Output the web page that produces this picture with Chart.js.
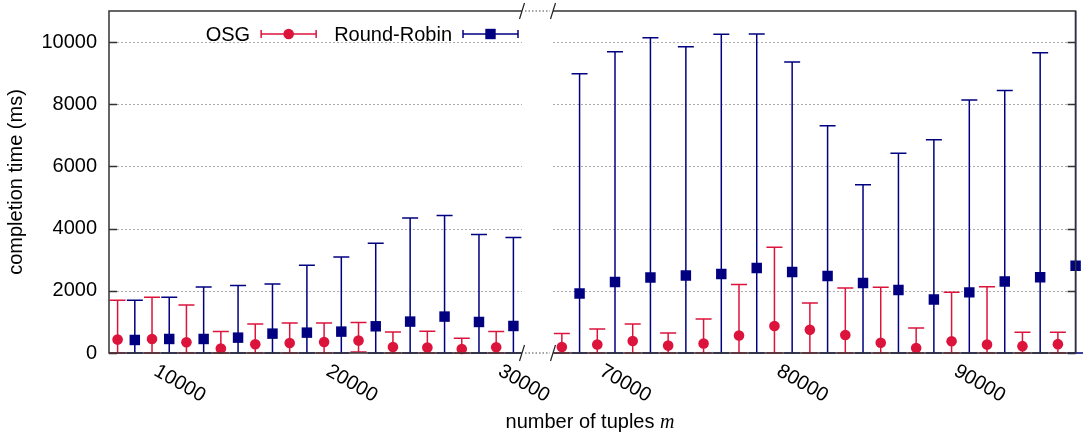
<!DOCTYPE html>
<html>
<head>
<meta charset="utf-8">
<title>completion time vs number of tuples</title>
<script src="https://cdn.jsdelivr.net/npm/chart.js@4.4.1/dist/chart.umd.min.js"></script>
<style>
  html, body { margin: 0; padding: 0; background: #fff; }
  #wrap { position: relative; width: 1083px; height: 437px; }
  #wrap canvas { position: absolute; left: 0; top: 0; }
</style>
</head>
<body>
<div id="wrap">
  <canvas id="lowRange" width="1083" height="437"></canvas>
  <canvas id="highRange" width="1083" height="437"></canvas>
</div>
<script>
// number of tuples m, left and right part of the broken x axis
const lowTuples = [8000, 10000, 12000, 14000, 16000, 18000, 20000, 22000, 24000, 26000, 28000, 30000];
const highTuples = [68000, 70000, 72000, 74000, 76000, 78000, 80000, 82000, 84000, 86000, 88000, 90000, 92000, 94000, 96000];

// OSG completion time (ms): mean, min, max
const osgLowMean = [431, 451, 344, 142, 280, 322, 354, 399, 193, 174, 129, 183];
const osgLowMin = [0, 0, 0, 0, 0, 0, 0, 30, 0, 0, 0, 0];
const osgLowMax = [1696, 1793, 1545, 689, 934, 966, 966, 977, 676, 698, 473, 688];
const osgHighMean = [193, 275, 386, 238, 306, 565, 869, 745, 580, 330, 161, 380, 270, 220, 285];
const osgHighMin = [0, 0, 0, 0, 0, 0, 0, 0, 0, 0, 0, 0, 0, 0, 0];
const osgHighMax = [628, 773, 929, 644, 1095, 2206, 3402, 1605, 2093, 2115, 805, 1954, 2131, 671, 671];

// Round-Robin completion time (ms): mean, min, max
const rrLowMean = [419, 451, 451, 494, 623, 655, 688, 859, 1010, 1171, 998, 869];
const rrLowMin = [0, 0, 0, 0, 0, 0, 0, 0, 0, 0, 0, 0];
const rrLowMax = [1696, 1793, 2125, 2168, 2222, 2823, 3091, 3531, 4346, 4423, 3811, 3715];
const rrHighMean = [1916, 2286, 2427, 2491, 2543, 2736, 2603, 2479, 2253, 2023, 1724, 1950, 2298, 2437, 2808];
const rrHighMin = [0, 0, 0, 0, 0, 0, 0, 0, 0, 0, 0, 0, 0, 0, 0];
const rrHighMax = [8981, 9689, 10140, 9850, 10249, 10259, 9358, 7307, 5408, 6428, 6857, 8134, 8440, 9657, 11500];

const yTicks = [0, 2000, 4000, 6000, 8000, 10000];
const lowXTicks = [10000, 20000, 30000];
const highXTicks = [70000, 80000, 90000];

const FONT = "'Liberation Sans', Arial, sans-serif";
const OSG_COLOR = '#dc143c';
const RR_COLOR = '#000080';
const FRAME = '#333333';
const GRID = '#aaaaaa';
const DODGE = 500;        // OSG left of m, Round-Robin right of m
const CUT_LOW = 522;      // right edge of the low range
const CUT_HIGH = 553;     // left edge of the high range
const CAP = 8;

function series(label, tuples, mean, lo, hi, shift, color, style, radius) {
    return {
        label: label,
        data: tuples.map(function (m, i) { return { x: m + shift, y: mean[i] }; }),
        lo: lo,
        hi: hi,
        showLine: false,
        pointStyle: style,
        pointRadius: radius,
        pointBackgroundColor: color,
        pointBorderWidth: 0,
        borderColor: color,
        backgroundColor: color,
        clip: 10
    };
}

function drawMarker(ctx, style, x, y, color) {
    ctx.fillStyle = color;
    ctx.beginPath();
    if (style === 'circle') {
        ctx.arc(x, y, 5.3, 0, Math.PI * 2);
    } else {
        ctx.rect(x - 5.2, y - 5.2, 10.4, 10.4);
    }
    ctx.fill();
}

function drawLegend(chart) {
    const ctx = chart.ctx;
    const a = chart.chartArea;
    const cy = 34;
    let right = a.right - 4;
    ctx.save();
    ctx.font = '20px ' + FONT;
    ctx.textAlign = 'right';
    ctx.textBaseline = 'alphabetic';
    chart.data.datasets.slice().reverse().forEach(function (ds) {
        const x1 = right;
        const x0 = right - 55;
        ctx.strokeStyle = ds.borderColor;
        ctx.lineWidth = 1.5;
        ctx.beginPath();
        ctx.moveTo(x0, cy); ctx.lineTo(x1, cy);
        ctx.moveTo(x0, cy - 4); ctx.lineTo(x0, cy + 4);
        ctx.moveTo(x1, cy - 4); ctx.lineTo(x1, cy + 4);
        ctx.stroke();
        drawMarker(ctx, ds.pointStyle, (x0 + x1) / 2, cy, ds.borderColor);
        ctx.fillStyle = '#000';
        ctx.fillText(ds.label, x0 - 11, cy + 7);
        right = x0 - 11 - ctx.measureText(ds.label).width - 18;
    });
    ctx.restore();
}

function drawBreak(ctx, edge, a) {
    ctx.strokeStyle = '#222';
    ctx.lineWidth = 1.2;
    ctx.beginPath();
    [a.top, a.bottom].forEach(function (yy) {
        ctx.moveTo(edge - 2.5, yy + 8);
        ctx.lineTo(edge + 2.5, yy - 8);
    });
    ctx.stroke();
}

const brokenAxis = {
    id: 'brokenAxis',
    beforeDatasetsDraw: function (chart, args, opts) {
        const ctx = chart.ctx;
        const a = chart.chartArea;
        const y = chart.scales.y;
        ctx.save();

        // dotted horizontal grid
        ctx.strokeStyle = GRID;
        ctx.lineWidth = 1;
        ctx.setLineDash([2, 2]);
        yTicks.forEach(function (v) {
            if (v === 0) return;
            const py = Math.round(y.getPixelForValue(v)) + 0.5;
            ctx.beginPath();
            ctx.moveTo(a.left, py);
            ctx.lineTo(a.right, py);
            ctx.stroke();
        });
        ctx.setLineDash([]);

        // inward tick marks on the outer y axis
        ctx.strokeStyle = FRAME;
        ctx.lineWidth = 1.5;
        ctx.beginPath();
        yTicks.forEach(function (v) {
            const py = Math.round(y.getPixelForValue(v)) + 0.5;
            const x0 = opts.side === 'left' ? a.left : a.right - 8;
            ctx.moveTo(x0, py);
            ctx.lineTo(x0 + 8, py);
        });
        ctx.stroke();

        // min/max error bars
        ctx.beginPath();
        ctx.rect(a.left - 12, a.top, a.width + 24, a.height + 3);
        ctx.clip();
        ctx.lineWidth = 1.5;
        chart.data.datasets.forEach(function (ds, di) {
            const meta = chart.getDatasetMeta(di);
            ctx.strokeStyle = ds.borderColor;
            ctx.beginPath();
            meta.data.forEach(function (pt, i) {
                const top = y.getPixelForValue(ds.hi[i]);
                const bot = y.getPixelForValue(ds.lo[i]);
                ctx.moveTo(pt.x, top); ctx.lineTo(pt.x, bot);
                ctx.moveTo(pt.x - CAP, top); ctx.lineTo(pt.x + CAP, top);
                ctx.moveTo(pt.x - CAP, bot); ctx.lineTo(pt.x + CAP, bot);
            });
            ctx.stroke();
        });
        ctx.restore();
    },
    afterDatasetsDraw: function (chart, args, opts) {
        const ctx = chart.ctx;
        const a = chart.chartArea;
        ctx.save();
        ctx.strokeStyle = FRAME;
        ctx.lineWidth = 1.5;
        ctx.beginPath();
        if (opts.side === 'left') {
            ctx.moveTo(a.right, a.top); ctx.lineTo(a.left, a.top);
            ctx.lineTo(a.left, a.bottom); ctx.lineTo(a.right, a.bottom);
        } else {
            ctx.moveTo(a.left, a.top); ctx.lineTo(a.right, a.top);
            ctx.lineTo(a.right, a.bottom); ctx.lineTo(a.left, a.bottom);
        }
        ctx.stroke();
        drawBreak(ctx, opts.side === 'left' ? a.right : a.left, a);

        if (opts.side === 'right') {
            // dotted link across the gap
            ctx.strokeStyle = '#444';
            ctx.lineWidth = 1;
            ctx.setLineDash([1.5, 2]);
            ctx.beginPath();
            [a.top, a.bottom].forEach(function (yy) {
                ctx.moveTo(CUT_LOW + 3, yy);
                ctx.lineTo(CUT_HIGH - 3, yy);
            });
            ctx.stroke();
        }
        ctx.restore();
    },
    afterDraw: function (chart, args, opts) {
        const ctx = chart.ctx;
        const a = chart.chartArea;
        const x = chart.scales.x;

        // rotated x tick labels
        ctx.save();
        ctx.font = '20px ' + FONT;
        ctx.fillStyle = '#000';
        ctx.textAlign = 'left';
        ctx.textBaseline = 'top';
        x.ticks.forEach(function (t) {
            const px = x.getPixelForValue(t.value);
            ctx.save();
            ctx.translate(px, a.bottom + 8);
            ctx.rotate(Math.PI / 6);
            ctx.fillText(String(t.value), 0, 0);
            ctx.restore();
        });
        ctx.restore();

        if (opts.legend) drawLegend(chart);

        if (opts.xTitle) {
            ctx.save();
            ctx.fillStyle = '#000';
            ctx.textBaseline = 'alphabetic';
            ctx.textAlign = 'left';
            const plain = 'number of tuples ';
            ctx.font = '20px ' + FONT;
            const w1 = ctx.measureText(plain).width;
            ctx.font = "italic 20px 'Liberation Serif', 'Times New Roman', serif";
            const w2 = ctx.measureText('m').width;
            const x0 = 590 - (w1 + w2) / 2;
            ctx.font = '20px ' + FONT;
            ctx.fillText(plain, x0, 428);
            ctx.font = "italic 20px 'Liberation Serif', 'Times New Roman', serif";
            ctx.fillText('m', x0 + w1, 428);
            ctx.restore();
        }
    }
};

function makeChart(canvasId, datasets, side, xMin, xMax, xTicks) {
    const isLow = side === 'left';
    const yScale = {
        min: 0,
        max: 11000,
        display: isLow,
        grid: { display: false, drawTicks: true, tickLength: 12 },
        border: { display: false },
        ticks: {
            padding: 0,
            color: '#000',
            font: { family: FONT, size: 20, lineHeight: 1 },
            callback: function (v) { return String(v); }
        },
        afterBuildTicks: function (s) {
            s.ticks = yTicks.map(function (v) { return { value: v }; });
        },
        title: {
            display: true,
            text: 'completion time (ms)',
            color: '#000',
            font: { family: FONT, size: 20 },
            padding: { top: 4, bottom: 0 }
        }
    };
    if (isLow) {
        yScale.afterFit = function (s) {
            s.width = 109;
            s.paddingTop = 0;
            s.paddingBottom = 0;
        };
    }

    return new Chart(document.getElementById(canvasId), {
        type: 'scatter',
        data: { datasets: datasets },
        options: {
            responsive: false,
            animation: false,
            events: [],
            layout: {
                padding: {
                    top: 11,
                    bottom: 0,
                    left: isLow ? 0 : CUT_HIGH,
                    right: isLow ? 1083 - CUT_LOW : 5
                }
            },
            plugins: {
                legend: { display: false },
                tooltip: { enabled: false },
                brokenAxis: { side: side, legend: isLow, xTitle: !isLow }
            },
            scales: {
                x: {
                    type: 'linear',
                    min: xMin,
                    max: xMax,
                    grid: { display: false },
                    border: { display: false },
                    ticks: { display: false },
                    afterBuildTicks: function (s) {
                        s.ticks = xTicks.map(function (v) { return { value: v }; });
                    },
                    afterFit: function (s) { s.height = 84; }
                },
                y: yScale
            }
        },
        plugins: [brokenAxis]
    });
}

makeChart('lowRange', [
    series('OSG', lowTuples, osgLowMean, osgLowMin, osgLowMax, -DODGE, OSG_COLOR, 'circle', 5.3),
    series('Round-Robin', lowTuples, rrLowMean, rrLowMin, rrLowMax, DODGE, RR_COLOR, 'rect', 7.4)
], 'left', 7000, 31000, lowXTicks);

makeChart('highRange', [
    series('OSG', highTuples, osgHighMean, osgHighMin, osgHighMax, -DODGE, OSG_COLOR, 'circle', 5.3),
    series('Round-Robin', highTuples, rrHighMean, rrHighMin, rrHighMax, DODGE, RR_COLOR, 'rect', 7.4)
], 'right', 67000, 96500, highXTicks);
</script>
</body>
</html>
